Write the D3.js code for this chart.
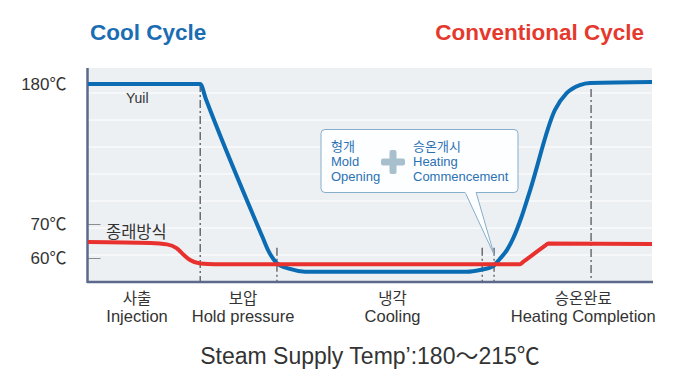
<!DOCTYPE html>
<html>
<head>
<meta charset="utf-8">
<script src="https://cdn.jsdelivr.net/npm/d3@7"></script>
<style>
  body { margin: 0; background: #fff; }
  text { font-family: "Liberation Sans", "Noto Sans CJK KR", sans-serif; }
</style>
</head>
<body>
<script>
// time axis is 0..100 (relative cycle time), temperature in ℃
const yuilTime = [0, 19.9, 20.9, 30.9, 31.9, 33.5, 35.8, 38.5, 67.2, 69.5, 71.8, 73.0, 74.3, 75.5, 76.8, 78.4, 82.8, 84.9, 87.2, 89.0, 100];
const yuilTemp = [180, 180, 168.2, 66.3, 62.4, 58.5, 56.8, 56.0, 56.0, 56.5, 57.6, 59.7, 62.4, 66.2, 74.7, 96.7, 159.6, 173.0, 179.2, 180.8, 181.6];

const convTime = [0, 11, 14, 15.7, 17, 18.1, 19.9, 22.5, 76.6, 77.1, 81.1, 81.6, 100];
const convTemp = [64.7, 64.4, 64.0, 62.9, 60.9, 59.4, 58.4, 58.2, 58.2, 58.8, 63.7, 64.3, 64.1];

const yTicks = [180, 70, 60];

const phaseTime = [19.9, 33.5, 69.9, 72.0, 89.2];
const phaseTop = [180, 63, 63, 63, 176];

const phaseKo = ["사출", "보압", "냉각", "승온완료"];
const phaseEn = ["Injection", "Hold pressure", "Cooling", "Heating Completion"];
const phaseAt = [8.7, 27.5, 54, 87.8];

const width = 698, height = 388;

const svg = d3.select("body").append("svg")
  .attr("width", width)
  .attr("height", height);

// broken temperature scale: 60-70 stretched, 70-180 compressed
const x = d3.scaleLinear().domain([0, 100]).range([88, 652]);
const y = d3.scaleLinear().domain([53, 60, 70, 180]).range([282, 258, 224, 84]);

// plot background
svg.append("rect")
  .attr("x", 88).attr("y", 68)
  .attr("width", 564).attr("height", 214)
  .attr("fill", "#edf0f3");

svg.append("g")
  .selectAll("line")
  .data(d3.range(93, 260, 27))
  .join("line")
  .attr("x1", 88).attr("x2", 652)
  .attr("y1", d => d).attr("y2", d => d)
  .attr("stroke", "#fff")
  .attr("stroke-width", 1);

// phase separators
svg.append("g")
  .selectAll("line")
  .data(phaseTime)
  .join("line")
  .attr("x1", d => x(d)).attr("x2", d => x(d))
  .attr("y1", (d, i) => y(phaseTop[i]))
  .attr("y2", 282)
  .attr("stroke", "#6b6d72")
  .attr("stroke-width", 1.5)
  .attr("stroke-dasharray", "8,3,2,3");

// axes
const yAxis = svg.append("g")
  .attr("transform", "translate(87.5,0)")
  .call(d3.axisLeft(y).tickValues(yTicks).tickFormat(d => d + "℃").tickSize(6).tickPadding(15));
yAxis.select(".domain").remove();
yAxis.selectAll(".tick line")
  .attr("stroke", "#8a8c90")
  .attr("x2", d => d === 180 ? 0 : 13);
yAxis.selectAll(".tick text")
  .attr("fill", "#333")
  .style("font-size", "17px")
  .style("font-family", "'Liberation Sans', 'Noto Sans CJK KR', sans-serif");

svg.append("line")
  .attr("x1", 87.5).attr("x2", 87.5)
  .attr("y1", 68).attr("y2", 283)
  .attr("stroke", "#5b6a8c").attr("stroke-width", 2.5);
svg.append("line")
  .attr("x1", 87).attr("x2", 653)
  .attr("y1", 282).attr("y2", 282)
  .attr("stroke", "#5b6a8c").attr("stroke-width", 2.5);

// curves
const line = d3.line()
  .x(d => x(d[0]))
  .y(d => y(d[1]))
  .curve(d3.curveMonotoneX);

svg.append("path")
  .datum(d3.zip(yuilTime, yuilTemp))
  .attr("d", line)
  .attr("fill", "none")
  .attr("stroke", "#0b6cb4")
  .attr("stroke-width", 4)
  .attr("stroke-linejoin", "round");

svg.append("path")
  .datum(d3.zip(convTime, convTemp))
  .attr("d", line)
  .attr("fill", "none")
  .attr("stroke", "#e8312e")
  .attr("stroke-width", 4)
  .attr("stroke-linejoin", "round");

// series labels
svg.append("text")
  .attr("x", 126).attr("y", 103)
  .attr("fill", "#333").style("font-size", "14px")
  .text("Yuil");
svg.append("text")
  .attr("x", 106).attr("y", 238)
  .attr("fill", "#333").style("font-size", "16.5px")
  .text("종래방식");

// titles
svg.append("text")
  .attr("x", 90).attr("y", 39.5)
  .attr("fill", "#1b6db3")
  .style("font-size", "22.5px").style("font-weight", "bold")
  .text("Cool Cycle");
svg.append("text")
  .attr("x", 644).attr("y", 39.5)
  .attr("text-anchor", "end")
  .attr("fill", "#e6392e")
  .style("font-size", "22.5px").style("font-weight", "bold")
  .text("Conventional Cycle");

// callout
const tipX = x(72), tipY = y(61);
const callout = svg.append("g");
callout.append("rect")
  .attr("x", 321).attr("y", 129.5)
  .attr("width", 197).attr("height", 63)
  .attr("rx", 4)
  .attr("fill", "#fdfeff")
  .attr("stroke", "#86aecb");
callout.append("path")
  .attr("d", `M465,192 L${tipX},${tipY} L476,192`)
  .attr("fill", "#fdfeff")
  .attr("stroke", "#86aecb");
callout.append("rect")
  .attr("x", 465.5).attr("y", 190.5).attr("width", 10).attr("height", 3)
  .attr("fill", "#fdfeff");

const leftLines = ["형개", "Mold", "Opening"];
const rightLines = ["승온개시", "Heating", "Commencement"];
callout.append("g")
  .selectAll("text")
  .data(leftLines)
  .join("text")
  .attr("x", 331).attr("y", (d, i) => 151 + i * 15)
  .attr("fill", "#2c72b3").style("font-size", "13px")
  .text(d => d);
callout.append("g")
  .selectAll("text")
  .data(rightLines)
  .join("text")
  .attr("x", 413).attr("y", (d, i) => 151 + i * 15)
  .attr("fill", "#2c72b3").style("font-size", "13px")
  .text(d => d);
callout.append("rect")
  .attr("x", 381).attr("y", 158.5).attr("width", 24).attr("height", 7).attr("rx", 2)
  .attr("fill", "#a8bfcd");
callout.append("rect")
  .attr("x", 389.5).attr("y", 150).attr("width", 7).attr("height", 24).attr("rx", 2)
  .attr("fill", "#a8bfcd");

// phase labels
const phases = svg.append("g")
  .selectAll("g")
  .data(phaseAt)
  .join("g")
  .attr("transform", d => `translate(${x(d)},0)`);
phases.append("text")
  .attr("y", 304).attr("text-anchor", "middle")
  .attr("fill", "#333").style("font-size", "15.5px")
  .text((d, i) => phaseKo[i]);
phases.append("text")
  .attr("y", 321.5).attr("text-anchor", "middle")
  .attr("fill", "#333").style("font-size", "16.5px")
  .text((d, i) => phaseEn[i]);

// caption
svg.append("text")
  .attr("x", 370).attr("y", 364)
  .attr("text-anchor", "middle")
  .attr("fill", "#333").style("font-size", "23px")
  .text("Steam Supply Temp’:180～215℃");
</script>
</body>
</html>
